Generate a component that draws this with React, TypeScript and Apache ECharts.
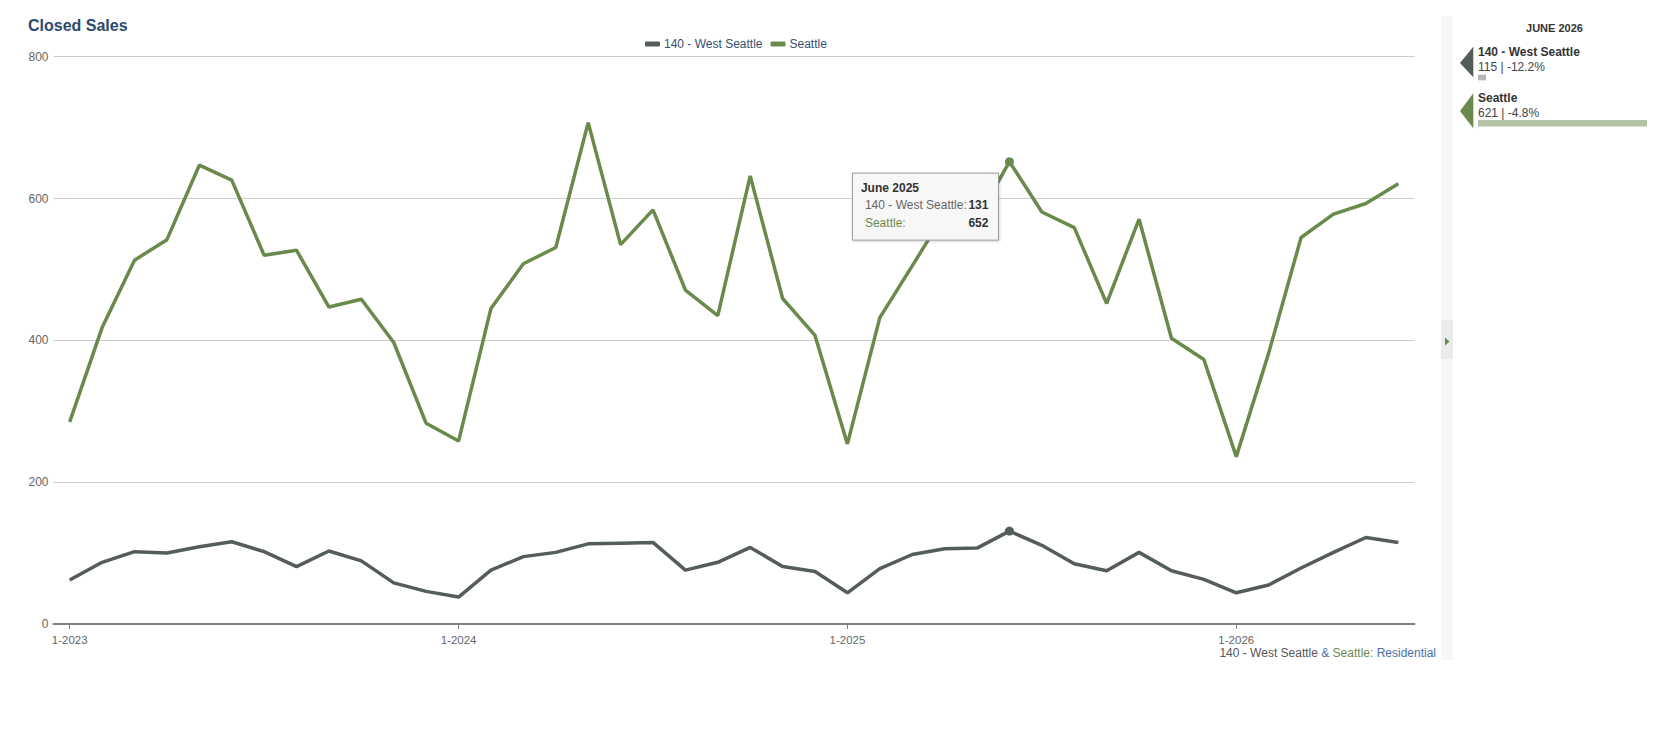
import React, { useEffect, useRef } from "react";
import * as echarts from "echarts";

const categories = [
  "1-2023", "2-2023", "3-2023", "4-2023", "5-2023", "6-2023", "7-2023", "8-2023", "9-2023", "10-2023", "11-2023", "12-2023",
  "1-2024", "2-2024", "3-2024", "4-2024", "5-2024", "6-2024", "7-2024", "8-2024", "9-2024", "10-2024", "11-2024", "12-2024",
  "1-2025", "2-2025", "3-2025", "4-2025", "5-2025", "6-2025", "7-2025", "8-2025", "9-2025", "10-2025", "11-2025", "12-2025",
  "1-2026", "2-2026", "3-2026", "4-2026", "5-2026", "6-2026",
];

const westSeattle = [
  62, 87, 102, 100, 109, 116, 102, 81, 103, 89, 58, 46,
  38, 76, 95, 101, 113, 114, 115, 76, 87, 108, 81, 74,
  44, 78, 98, 106, 107, 131, 111, 85, 75, 101, 75, 63,
  44, 55, 79, 101, 122, 115,
];

const seattle = [
  285, 418, 513, 542, 647, 626, 520, 527, 447, 458, 397, 283,
  258, 445, 508, 531, 707, 535, 584, 471, 435, 632, 459, 407,
  254, 432, 505, 579, 570, 652, 581, 559, 452, 571, 403, 373,
  236, 382, 545, 578, 593, 621,
];

const seriesNames = ["140 - West Seattle", "Seattle"];
const seriesColors = ["#545d5a", "#6a8a4b"];
const yMin = 0;
const yMax = 800;
const yInterval = 200;

const highlightIndex = 29;
const highlightLabel = "June 2025";

const panelTitle = "JUNE 2026";
const panelValues = [115, 621];
const panelChanges = ["-12.2%", "-4.8%"];

const FONT = "'Liberation Sans', Arial, Helvetica, sans-serif";

export default function App() {
  const ref = useRef<HTMLDivElement>(null);

  useEffect(() => {
    document.body.style.margin = "0";
    if (!ref.current) return;
    const chart = echarts.init(ref.current, undefined, { renderer: "svg" });

    chart.setOption({
      animation: false,
      textStyle: { fontFamily: FONT },
      title: {
        text: "Closed Sales",
        left: 28,
        top: 17,
        padding: 0,
        textStyle: { color: "#2c4a6e", fontSize: 16, fontWeight: "bold", fontFamily: FONT },
      },
      legend: {
        left: 645,
        top: 38,
        padding: 0,
        itemWidth: 15,
        itemHeight: 5,
        itemGap: 8,
        icon: "roundRect",
        textStyle: { color: "#34506f", fontSize: 12, fontFamily: FONT, padding: [0, 0, 0, -1] },
        data: seriesNames,
      },
      grid: { left: 53.5, right: 263.5, top: 56.7, bottom: 132, containLabel: false },
      xAxis: {
        type: "category",
        data: categories,
        boundaryGap: true,
        axisLine: { show: true, lineStyle: { color: "#808080", width: 2 } },
        axisTick: { show: true, interval: 11, alignWithLabel: true, length: 5, lineStyle: { color: "#808080", width: 1 } },
        axisLabel: { interval: 11, color: "#666", fontSize: 11.5, margin: 10, fontFamily: FONT },
        splitLine: { show: false },
      },
      yAxis: {
        type: "value",
        min: yMin,
        max: yMax,
        interval: yInterval,
        axisLine: { show: false },
        axisTick: { show: false },
        axisLabel: { color: "#666", fontSize: 12, margin: 5, fontFamily: FONT },
        splitLine: { lineStyle: { color: "#cccccc", width: 1 } },
      },
      series: [
        {
          name: seriesNames[0],
          type: "line",
          data: westSeattle,
          color: seriesColors[0],
          lineStyle: { width: 3.5, color: seriesColors[0] },
          symbol: "circle",
          showSymbol: true,
          showAllSymbol: true,
          symbolSize: (_v: any, p: any) => (p.dataIndex === highlightIndex ? 9 : 0),
          itemStyle: { color: seriesColors[0] },
          emphasis: { disabled: true },
          z: 3,
        },
        {
          name: seriesNames[1],
          type: "line",
          data: seattle,
          color: seriesColors[1],
          lineStyle: { width: 3.5, color: seriesColors[1] },
          symbol: "circle",
          showSymbol: true,
          showAllSymbol: true,
          symbolSize: (_v: any, p: any) => (p.dataIndex === highlightIndex ? 9 : 0),
          itemStyle: { color: seriesColors[1] },
          emphasis: { disabled: true },
          z: 3,
        },
      ],
    });

    const pt = chart.convertToPixel({ xAxisIndex: 0, yAxisIndex: 0 }, [highlightIndex, seattle[highlightIndex]]) as number[];
    const boxW = 146;
    const boxH = 67;
    const bx = pt[0] - boxW - 11;
    const by = pt[1] + 11.5;

    const graphics: any[] = [
      {
        type: "group",
        z: 100,
        children: [
          {
            type: "rect",
            shape: { x: bx, y: by, width: boxW, height: boxH },
            style: { fill: "#f7f7f7", stroke: "#9a9a9a", lineWidth: 1, shadowBlur: 3, shadowColor: "rgba(0,0,0,0.15)", shadowOffsetX: 1, shadowOffsetY: 1 },
            z: 100,
          },
          {
            type: "text",
            x: bx + 8.5,
            y: by + 15,
            style: { text: highlightLabel, fill: "#333", font: `bold 12px ${FONT}`, textVerticalAlign: "middle" },
            z: 101,
          },
          {
            type: "text",
            x: bx + 12.5,
            y: by + 31.5,
            style: { text: seriesNames[0] + ": ", fill: "#666", font: `12px ${FONT}`, textVerticalAlign: "middle" },
            z: 101,
          },
          {
            type: "text",
            x: bx + 136,
            y: by + 31.5,
            style: { text: String(westSeattle[highlightIndex]), fill: "#333", font: `bold 12px ${FONT}`, textAlign: "right", textVerticalAlign: "middle" },
            z: 101,
          },
          {
            type: "text",
            x: bx + 12.5,
            y: by + 49.5,
            style: { text: seriesNames[1] + ":", fill: seriesColors[1], font: `12px ${FONT}`, textVerticalAlign: "middle" },
            z: 101,
          },
          {
            type: "text",
            x: bx + 136,
            y: by + 49.5,
            style: { text: String(seattle[highlightIndex]), fill: "#333", font: `bold 12px ${FONT}`, textAlign: "right", textVerticalAlign: "middle" },
            z: 101,
          },
        ],
      },
      {
        type: "text",
        x: 1436,
        y: 653,
        style: {
          text: "{a|140 - West Seattle}{b| & }{c|Seattle:}{b| Residential}",
          textAlign: "right",
          textVerticalAlign: "middle",
          font: `12px ${FONT}`,
          rich: {
            a: { fill: "#555", fontSize: 12, fontFamily: FONT },
            b: { fill: "#4a6fa5", fontSize: 12, fontFamily: FONT },
            c: { fill: seriesColors[1], fontSize: 12, fontFamily: FONT },
          },
        },
      },
      { type: "rect", shape: { x: 1441, y: 16, width: 12, height: 644 }, style: { fill: "#f6f6f6" } },
      { type: "rect", shape: { x: 1441, y: 320, width: 12, height: 39 }, style: { fill: "#ebebeb" } },
      { type: "polygon", shape: { points: [[1445, 337.5], [1445, 345.5], [1449.5, 341.5]] }, style: { fill: seriesColors[1] } },
      {
        type: "text",
        x: 1554.5,
        y: 28,
        style: { text: panelTitle, fill: "#333", font: `bold 11px ${FONT}`, textAlign: "center", textVerticalAlign: "middle" },
      },
      { type: "polygon", shape: { points: [[1473.3, 46.7], [1473.3, 77.3], [1460, 63]] }, style: { fill: seriesColors[0] } },
      {
        type: "text",
        x: 1478,
        y: 51.7,
        style: { text: seriesNames[0], fill: "#333", font: `bold 12px ${FONT}`, textVerticalAlign: "middle" },
      },
      {
        type: "text",
        x: 1478,
        y: 66.5,
        style: { text: `${panelValues[0]} | ${panelChanges[0]}`, fill: "#444", font: `12px ${FONT}`, textVerticalAlign: "middle" },
      },
      { type: "rect", shape: { x: 1478, y: 74.7, width: 8, height: 5.6 }, style: { fill: "#b3b7b5" } },
      { type: "polygon", shape: { points: [[1473.3, 93.3], [1473.3, 128.3], [1460, 111]] }, style: { fill: seriesColors[1] } },
      {
        type: "text",
        x: 1478,
        y: 97.7,
        style: { text: seriesNames[1], fill: "#333", font: `bold 12px ${FONT}`, textVerticalAlign: "middle" },
      },
      {
        type: "text",
        x: 1478,
        y: 112.7,
        style: { text: `${panelValues[1]} | ${panelChanges[1]}`, fill: "#444", font: `12px ${FONT}`, textVerticalAlign: "middle" },
      },
      { type: "rect", shape: { x: 1478, y: 120, width: 169, height: 6.5 }, style: { fill: "#b4c3a5" } },
    ];

    chart.setOption({ graphic: graphics });

    return () => chart.dispose();
  }, []);

  return <div ref={ref} style={{ width: 1678, height: 756 }} />;
}
